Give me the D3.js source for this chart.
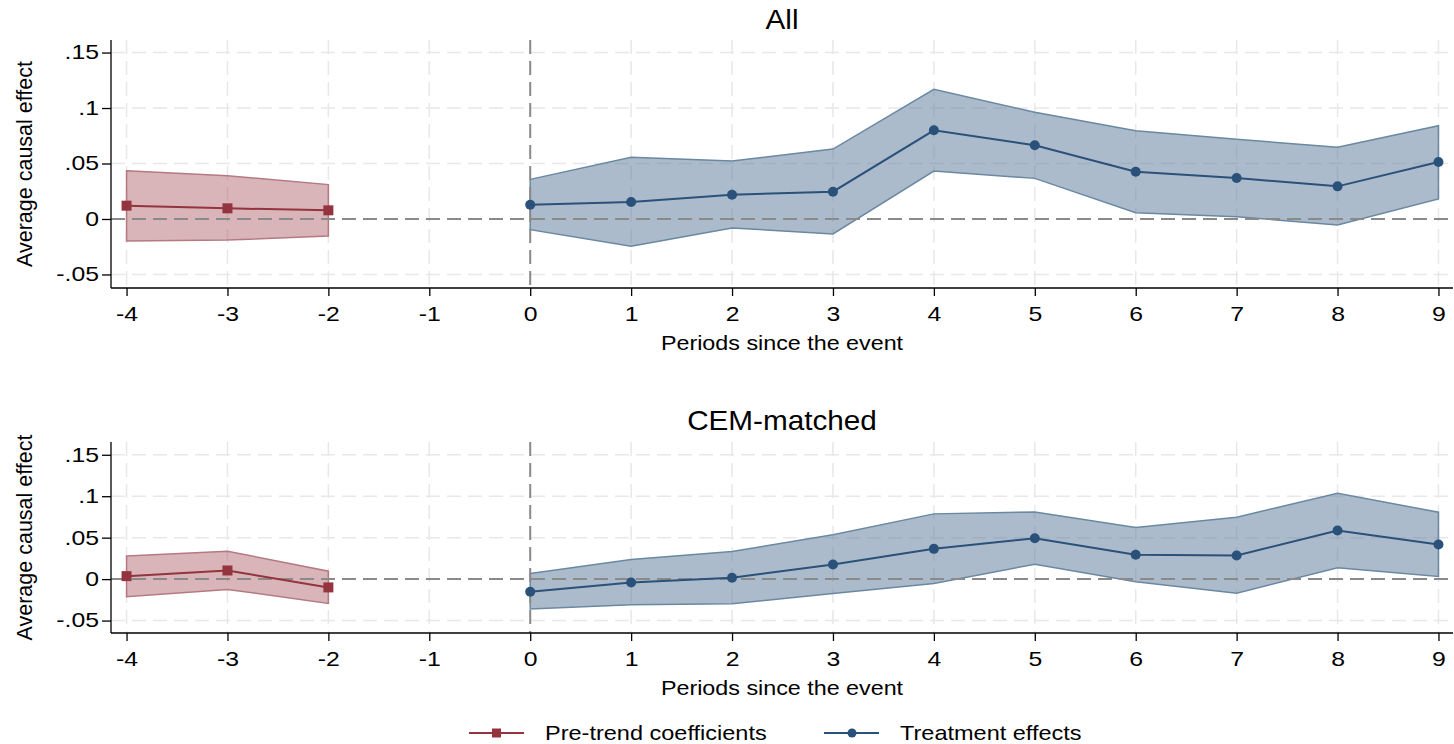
<!DOCTYPE html>
<html>
<head>
<meta charset="utf-8">
<script src="https://cdn.jsdelivr.net/npm/d3@7"></script>
<style>
  body { margin: 0; background: #fff; }
  svg { display: block; font-family: "Liberation Sans", Arial, sans-serif; }
</style>
</head>
<body>
<svg id="chart" width="1454" height="744"></svg>
<script>
const periods = [-4, -3, -2, -1, 0, 1, 2, 3, 4, 5, 6, 7, 8, 9];
const yTicks = [-0.05, 0, 0.05, 0.1, 0.15];
const yTickLabels = ["-.05", "0", ".05", ".1", ".15"];

const prePeriods = [-4, -3, -2];
const postPeriods = [0, 1, 2, 3, 4, 5, 6, 7, 8, 9];

// panel "All"
const allPre = [0.012, 0.0096, 0.0078];
const allPreHi = [0.0435, 0.039, 0.031];
const allPreLo = [-0.0198, -0.019, -0.0153];
const allPost = [0.0129, 0.0153, 0.0219, 0.0246, 0.0799, 0.0664, 0.0426, 0.0369, 0.0294, 0.0514];
const allPostHi = [0.0357, 0.0556, 0.0523, 0.063, 0.1168, 0.0961, 0.0796, 0.0718, 0.0646, 0.0841];
const allPostLo = [-0.0096, -0.0246, -0.0081, -0.0135, 0.0432, 0.0366, 0.0057, 0.0021, -0.0054, 0.018];

// panel "CEM-matched"
const cemPre = [0.0036, 0.0104, -0.01];
const cemPreHi = [0.028, 0.0337, 0.0096];
const cemPreLo = [-0.0213, -0.0124, -0.0293];
const cemPost = [-0.0153, -0.004, 0.0016, 0.0177, 0.0365, 0.0494, 0.0293, 0.0285, 0.0587, 0.0418];
const cemPostHi = [0.0068, 0.0237, 0.0333, 0.0534, 0.0787, 0.0811, 0.0622, 0.0747, 0.1036, 0.0807];
const cemPostLo = [-0.0361, -0.031, -0.0298, -0.0173, -0.0052, 0.018, -0.0032, -0.0169, 0.0137, 0.0032];

const red = "#93343e", redFill = "rgba(160,70,80,0.4)", redEdge = "#b47a81";
const blue = "#2a5179", blueFill = "rgba(95,125,155,0.52)", blueEdge = "#6a88a2";

// the reference text is a bit wider than plain Arial, stretch it horizontally
const tickSX = 1.24, titleSX = 1.11;

const svg = d3.select("#chart");

const x = d3.scaleLinear().domain([-4.154, 9.144]).range([111, 1453]);

const panels = [
  { title: "All", top: 40, bottom: 288, domain: [-0.0622, 0.1613], titleY: 29,
    pre: allPre, preHi: allPreHi, preLo: allPreLo, post: allPost, postHi: allPostHi, postLo: allPostLo },
  { title: "CEM-matched", top: 442, bottom: 633, domain: [-0.065, 0.1654], titleY: 430,
    pre: cemPre, preHi: cemPreHi, preLo: cemPreLo, post: cemPost, postHi: cemPostHi, postLo: cemPostLo }
];

panels.forEach(p => {
  const y = d3.scaleLinear().domain(p.domain).range([p.bottom, p.top]);
  const g = svg.append("g");

  // grid
  g.selectAll(".hgrid").data(yTicks).enter().append("line")
    .attr("x1", x.range()[0]).attr("x2", x.range()[1])
    .attr("y1", d => y(d)).attr("y2", d => y(d))
    .attr("stroke", "#e8e8e8").attr("stroke-width", 1.5).attr("stroke-dasharray", "14,7");
  g.selectAll(".vgrid").data(periods).enter().append("line")
    .attr("x1", d => x(d)).attr("x2", d => x(d))
    .attr("y1", p.top).attr("y2", p.bottom)
    .attr("stroke", "#e8e8e8").attr("stroke-width", 1.5).attr("stroke-dasharray", "14,7");

  // bands
  const area = d3.area().x(d => x(d.t)).y0(d => y(d.lo)).y1(d => y(d.hi));
  const preData = prePeriods.map((t, i) => ({ t, v: p.pre[i], hi: p.preHi[i], lo: p.preLo[i] }));
  const postData = postPeriods.map((t, i) => ({ t, v: p.post[i], hi: p.postHi[i], lo: p.postLo[i] }));

  g.append("path").datum(preData).attr("d", area)
    .attr("fill", redFill).attr("stroke", redEdge).attr("stroke-width", 1.5);
  g.append("path").datum(postData).attr("d", area)
    .attr("fill", blueFill).attr("stroke", blueEdge).attr("stroke-width", 1.5);

  // reference lines
  g.append("line").attr("x1", x.range()[0]).attr("x2", x.range()[1])
    .attr("y1", y(0)).attr("y2", y(0))
    .attr("stroke", "#8a8a8a").attr("stroke-width", 2).attr("stroke-dasharray", "14,7");
  g.append("line").attr("x1", x(0)).attr("x2", x(0))
    .attr("y1", p.top).attr("y2", p.bottom)
    .attr("stroke", "#8a8a8a").attr("stroke-width", 2).attr("stroke-dasharray", "14,7");

  // lines + markers
  const line = d3.line().x(d => x(d.t)).y(d => y(d.v));
  g.append("path").datum(preData).attr("d", line)
    .attr("fill", "none").attr("stroke", red).attr("stroke-width", 2);
  g.append("path").datum(postData).attr("d", line)
    .attr("fill", "none").attr("stroke", blue).attr("stroke-width", 2);

  g.selectAll(".sq").data(preData).enter().append("rect")
    .attr("x", d => x(d.t) - 5).attr("y", d => y(d.v) - 5)
    .attr("width", 10).attr("height", 10).attr("fill", red);
  g.selectAll(".dot").data(postData).enter().append("circle")
    .attr("cx", d => x(d.t)).attr("cy", d => y(d.v)).attr("r", 5).attr("fill", blue);

  // axes
  const yAxis = d3.axisLeft(y).tickValues(yTicks).tickSize(9).tickPadding(3)
    .tickFormat((d, i) => yTickLabels[i]);
  const ya = g.append("g").attr("transform", `translate(${x.range()[0]},0)`).call(yAxis);
  const xAxis = d3.axisBottom(x).tickValues(periods).tickSize(8).tickPadding(11)
    .tickFormat(d => d);
  const xa = g.append("g").attr("transform", `translate(0,${p.bottom})`).call(xAxis);
  [ya, xa].forEach(a => {
    a.select(".domain").attr("stroke", "#000").attr("stroke-width", 1.3);
    a.selectAll(".tick line").attr("stroke", "#000").attr("stroke-width", 1.3);
    a.selectAll(".tick text").attr("fill", "#000")
      .style("font-size", "20px").style("font-family", "Liberation Sans, Arial, sans-serif");
  });
  ya.selectAll(".tick text")
    .attr("x", -12 / tickSX).attr("transform", `scale(${tickSX},1)`);
  xa.selectAll(".tick text").attr("transform", `scale(${tickSX},1)`);
  ya.select(".domain").attr("d", `M0,${p.top}V${p.bottom}`);
  xa.select(".domain").attr("d", `M${x.range()[0]},0H${x.range()[1]}`);

  // titles
  svg.append("text")
    .attr("transform", `translate(782,${p.titleY}) scale(1.08,1)`)
    .attr("text-anchor", "middle").style("font-size", "27.5px").text(p.title);
  svg.append("text")
    .attr("transform", `translate(782,${p.bottom + 62}) scale(${titleSX},1)`)
    .attr("text-anchor", "middle").style("font-size", "21px").text("Periods since the event");
  svg.append("text")
    .attr("transform", `translate(32,${(p.top + p.bottom) / 2}) rotate(-90)`)
    .attr("text-anchor", "middle").style("font-size", "21.5px").text("Average causal effect");
});

// legend
const legend = [
  { label: "Pre-trend coefficients", color: red, shape: "square", x0: 469 },
  { label: "Treatment effects", color: blue, shape: "circle", x0: 824 }
];
const lg = svg.append("g");
legend.forEach(l => {
  lg.append("line").attr("x1", l.x0).attr("x2", l.x0 + 55).attr("y1", 733).attr("y2", 733)
    .attr("stroke", l.color).attr("stroke-width", 2);
  if (l.shape === "square") {
    lg.append("rect").attr("x", l.x0 + 23).attr("y", 728.5).attr("width", 9).attr("height", 9).attr("fill", l.color);
  } else {
    lg.append("circle").attr("cx", l.x0 + 28).attr("cy", 733).attr("r", 4.5).attr("fill", l.color);
  }
  lg.append("text")
    .attr("transform", `translate(${l.x0 + 76},740) scale(1.12,1)`)
    .style("font-size", "21px").text(l.label);
});
</script>
</body>
</html>
